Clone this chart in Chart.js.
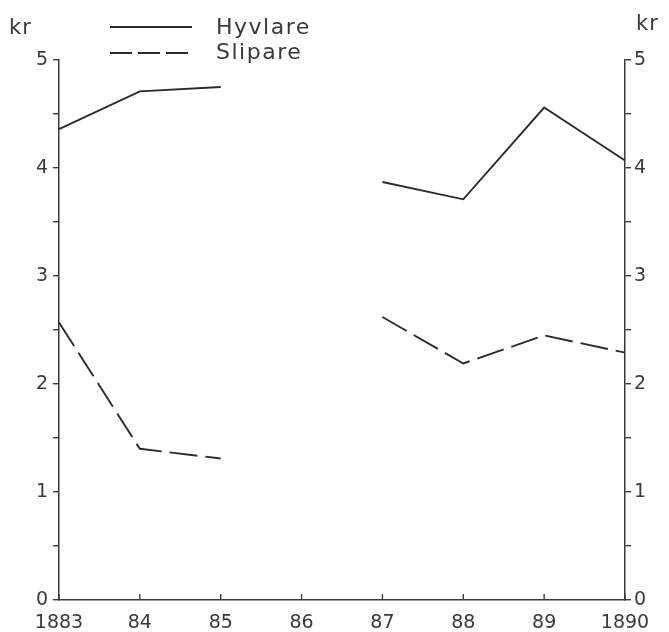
<!DOCTYPE html>
<html>
<head>
<meta charset="utf-8">
<title>Hyvlare / Slipare 1883-1890</title>
<script src="https://cdn.jsdelivr.net/npm/chart.js@4.4.1/dist/chart.umd.min.js"></script>
<style>
    body { margin: 0; background: #fff; }
    #wrap { position: relative; width: 669px; height: 632px; }
    #chart { position: absolute; left: 0; top: 0; }
    .unit, .legend-text {
        position: absolute;
        font-family: "DejaVu Sans", sans-serif;
        color: #3a3a3a;
    }
    .unit { font-size: 21px; letter-spacing: 1px; }
    .legend-text { font-size: 22px; letter-spacing: 1.5px; left: 216px; }
    #legendLines { position: absolute; left: 108px; top: 14px; }
</style>
</head>
<body>
<div id="wrap">
    <canvas id="chart" width="669" height="632"></canvas>
    <div class="unit" style="left:9px; top:15px;">kr</div>
    <div class="unit" style="left:636px; top:11px;">kr</div>
    <svg id="legendLines" width="90" height="50">
        <line x1="2" y1="13" x2="84" y2="13" stroke="#2b2b2b" stroke-width="1.8"/>
        <line x1="2" y1="39" x2="84" y2="39" stroke="#2b2b2b" stroke-width="1.8" stroke-dasharray="22 6"/>
    </svg>
    <div class="legend-text" style="top:14px;">Hyvlare</div>
    <div class="legend-text" style="top:39px;">Slipare</div>
</div>

<script>
/* ============================================
   DATA
============================================ */

const years = ["1883", "84", "85", "86", "87", "88", "89", "1890"];

// kr, 1886 saknas
const hyvlare = [4.36, 4.71, 4.75, null, 3.87, 3.71, 4.56, 4.07];
const slipare = [2.57, 1.40, 1.31, null, 2.62, 2.19, 2.45, 2.29];

const krLabels = [0, 1, 2, 3, 4, 5];

/* ============================================
   Styles
============================================ */

const ink = "#2b2b2b";
const axisInk = "#3a3a3a";
const tickFont = { family: "DejaVu Sans", size: 19 };

// x-axelns streck pekar inåt (uppåt) som i originalet
const innerXTicks = {
    id: "innerXTicks",
    afterDraw(chart) {
        const x = chart.scales.x;
        const ctx = chart.ctx;
        ctx.save();
        ctx.strokeStyle = axisInk;
        ctx.lineWidth = 1.4;
        x.ticks.forEach((t, i) => {
            const px = x.getPixelForTick(i);
            ctx.beginPath();
            ctx.moveTo(px, x.top);
            ctx.lineTo(px, x.top - 6);
            ctx.stroke();
        });
        ctx.restore();
    }
};

function krTick(value) {
    return krLabels.includes(value) ? String(value) : "";
}

/* ============================================
   Chart
============================================ */

const ctx = document.getElementById("chart").getContext("2d");

new Chart(ctx, {
    type: "line",
    data: {
        labels: years,
        datasets: [
            {
                label: "Hyvlare",
                data: hyvlare,
                borderColor: ink,
                borderWidth: 1.9,
                pointRadius: 0,
                spanGaps: false,
                tension: 0
            },
            {
                label: "Slipare",
                data: slipare,
                borderColor: ink,
                borderWidth: 1.9,
                borderDash: [28, 8],
                pointRadius: 0,
                spanGaps: false,
                tension: 0
            }
        ]
    },
    options: {
        responsive: false,
        animation: false,
        layout: { padding: { top: 60, left: 0, right: 0, bottom: 0 } },
        plugins: {
            legend: { display: false },
            tooltip: { enabled: false }
        },
        scales: {
            x: {
                offset: false,
                grid: { display: false, drawTicks: false },
                border: { display: true, color: axisInk, width: 1.5 },
                ticks: { color: axisInk, font: tickFont, padding: 12, maxRotation: 0 },
                afterFit: s => { s.height = 32; }
            },
            y: {
                position: "left",
                min: 0,
                max: 5,
                grid: { drawOnChartArea: false, drawTicks: true, tickLength: 6, color: axisInk, lineWidth: 1.4 },
                border: { display: true, color: axisInk, width: 1.5 },
                ticks: { stepSize: 0.5, color: axisInk, font: tickFont, padding: 5, callback: krTick },
                afterFit: s => { s.width = 59; }
            },
            y2: {
                position: "right",
                min: 0,
                max: 5,
                grid: { drawOnChartArea: false, drawTicks: true, tickLength: 6, color: axisInk, lineWidth: 1.4 },
                border: { display: true, color: axisInk, width: 1.5 },
                ticks: { stepSize: 0.5, color: axisInk, font: tickFont, padding: 3, callback: krTick },
                afterFit: s => { s.width = 44; }
            }
        }
    },
    plugins: [innerXTicks]
});
</script>
</body>
</html>
